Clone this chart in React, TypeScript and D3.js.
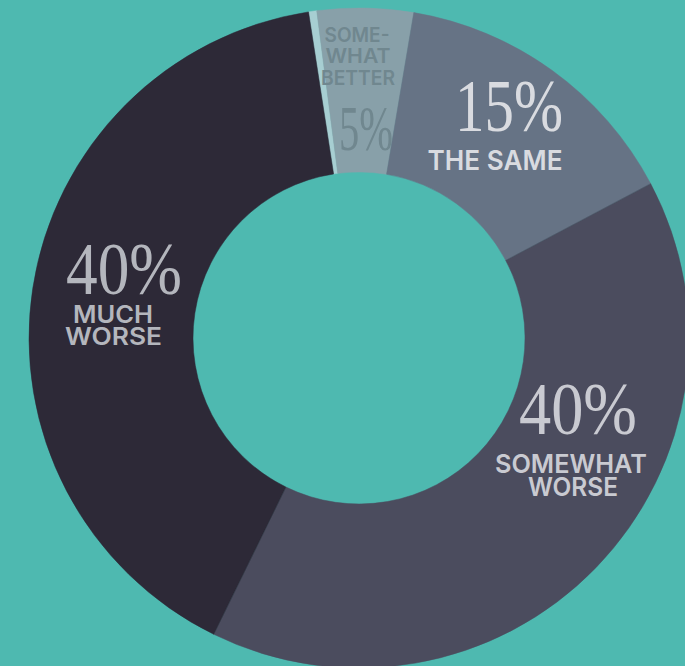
import { useEffect, useRef } from "react";
import * as d3 from "d3";

const WIDTH = 685;
const HEIGHT = 666;
const CENTER = { x: 359, y: 338 };
const INNER_R = 166;
const OUTER_R = 330;
const START_DEG = -8.8;

// values (labels show rounded numbers)
const categories = ["Much better", "Somewhat better", "The same", "Somewhat worse", "Much worse"];
const values = [0.4, 4.7, 14.6, 40, 40.3];
const percentLabels = ["", "5%", "15%", "40%", "40%"];
const nameLabels = [[], ["SOME-", "WHAT", "BETTER"], ["THE SAME"], ["SOMEWHAT", "WORSE"], ["MUCH", "WORSE"]];

const SLICE_COLORS = ["#a7ced2", "#88a0a9", "#667385", "#4b4c5e", "#2d2937"];
const TEXT_COLORS = ["#a7ced2", "#70878f", "#d9dbe0", "#c9cad1", "#b4b6bd"];
const BG = "#4eb9b0";

// hand-placed label layout: percent text + name lines (x centre, baseline, width)
type Line = { x: number; y: number; w: number; size: number };
const LAYOUT: { pct: Line | null; names: Line[] }[] = [
  { pct: null, names: [] },
  {
    pct: { x: 366, y: 150, w: 54, size: 64 },
    names: [
      { x: 357, y: 42, w: 65, size: 20 },
      { x: 358, y: 63, w: 65, size: 20 },
      { x: 358, y: 85, w: 74, size: 20 },
    ],
  },
  {
    pct: { x: 509, y: 131, w: 108, size: 74 },
    names: [{ x: 495, y: 170, w: 135, size: 27 }],
  },
  {
    pct: { x: 578, y: 434, w: 118, size: 74 },
    names: [
      { x: 571, y: 473, w: 152, size: 26 },
      { x: 573, y: 496, w: 90, size: 26 },
    ],
  },
  {
    pct: { x: 124, y: 294, w: 116, size: 74 },
    names: [
      { x: 113, y: 323, w: 80, size: 24 },
      { x: 113.5, y: 345, w: 97, size: 24 },
    ],
  },
];

export default function App() {
  const svgRef = useRef<SVGSVGElement>(null);

  useEffect(() => {
    const svgElement = svgRef.current;
    if (!svgElement) return;
    const svg = d3.select(svgElement);
    svg.selectAll("*").remove();

    svg.append("rect").attr("width", WIDTH).attr("height", HEIGHT).attr("fill", BG);

    const start = (START_DEG * Math.PI) / 180;
    const pie = d3
      .pie<number>()
      .sort(null)
      .value((d) => d)
      .startAngle(start)
      .endAngle(start + 2 * Math.PI);

    const arc = d3.arc<d3.PieArcDatum<number>>().innerRadius(INNER_R).outerRadius(OUTER_R);

    const g = svg.append("g").attr("transform", `translate(${CENTER.x},${CENTER.y})`);

    g.selectAll("path")
      .data(pie(values))
      .join("path")
      .attr("d", arc)
      .attr("fill", (_, i) => SLICE_COLORS[i])
      .attr("stroke", (_, i) => SLICE_COLORS[i])
      .attr("stroke-width", 0.5)
      .append("title")
      .text((_, i) => categories[i]);

    const labels = svg.append("g");
    LAYOUT.forEach((lay, i) => {
      if (lay.pct) {
        labels
          .append("text")
          .attr("x", lay.pct.x)
          .attr("y", lay.pct.y)
          .attr("text-anchor", "middle")
          .attr("font-family", "'Liberation Serif', 'DejaVu Serif', serif")
          .attr("font-size", lay.pct.size)
          .attr("textLength", lay.pct.w)
          .attr("lengthAdjust", "spacingAndGlyphs")
          .attr("fill", TEXT_COLORS[i])
          .text(percentLabels[i]);
      }
      lay.names.forEach((ln, j) => {
        labels
          .append("text")
          .attr("x", ln.x)
          .attr("y", ln.y)
          .attr("text-anchor", "middle")
          .attr("font-family", "Inter, 'Noto Sans', sans-serif")
          .attr("font-weight", 600)
          .attr("font-size", ln.size)
          .attr("textLength", ln.w)
          .attr("lengthAdjust", "spacingAndGlyphs")
          .attr("fill", TEXT_COLORS[i])
          .text(nameLabels[i][j]);
      });
    });
  }, []);

  return (
    <div style={{ position: "fixed", left: 0, top: 0, width: WIDTH, height: HEIGHT, overflow: "hidden" }}>
      <svg ref={svgRef} width={WIDTH} height={HEIGHT} style={{ display: "block" }} />
    </div>
  );
}
